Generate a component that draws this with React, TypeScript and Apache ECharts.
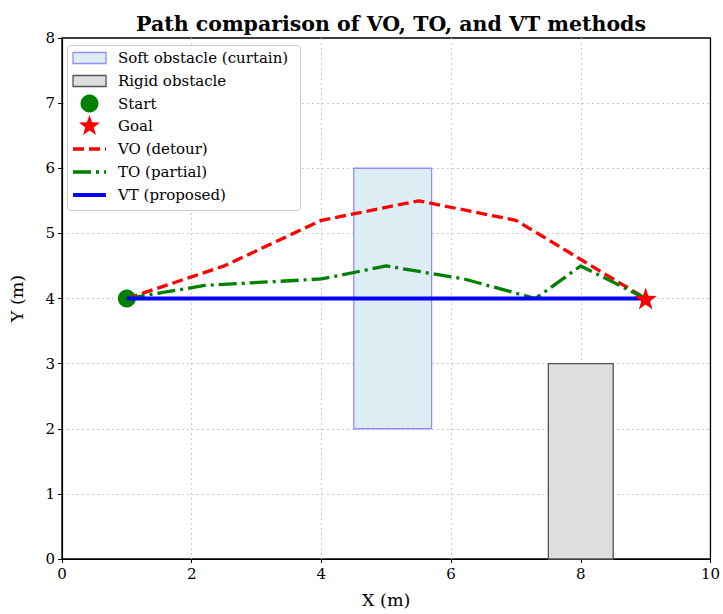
import React, { useEffect, useRef } from "react";
import * as echarts from "echarts";

const titleText = "Path comparison of VO, TO, and VT methods";
const xTicks = { min: 0, max: 10, interval: 2 };
const yTicks = { min: 0, max: 8, interval: 1 };

// obstacles: [x0, y0, x1, y1]
const softObstacle = [[4.5, 2, 5.7, 6]];
const rigidObstacle = [[7.5, 0, 8.5, 3]];

const startPoint = [[1, 4]];
const goalPoint = [[9, 4]];

const voPath = [[1, 4], [2.5, 4.5], [4, 5.2], [5.5, 5.5], [7, 5.2], [9, 4]];
const toPath = [[1, 4], [2.2, 4.2], [4, 4.3], [5, 4.5], [6.2, 4.3], [7.3, 4.0], [8, 4.5], [9, 4]];
const vtPath = [[1, 4], [9, 4]];

const legendLabels = [
  "Soft obstacle (curtain)",
  "Rigid obstacle",
  "Start",
  "Goal",
  "VO (detour)",
  "TO (partial)",
  "VT (proposed)",
];

const FONT = "DejaVu Serif";
const STAR = "path://M0,-10L2.35,-3.24L9.51,-3.09L3.8,1.24L5.88,8.09L0,4L-5.88,8.09L-3.8,1.24L-9.51,-3.09L-2.35,-3.24Z";

const GRID = { left: 60, right: 11, top: 38, bottom: 53 };
const W = 723, H = 614;

function starPoints(cx: number, cy: number, R: number, r: number) {
  const pts: number[][] = [];
  for (let i = 0; i < 10; i++) {
    const a = -Math.PI / 2 + (i * Math.PI) / 5;
    const rad = i % 2 === 0 ? R : r;
    pts.push([cx + rad * Math.cos(a), cy + rad * Math.sin(a)]);
  }
  return pts;
}

function rectSeries(name: string, data: number[][], fill: string, stroke: string) {
  return {
    name,
    type: "custom",
    z: 1,
    renderItem: (params: any, api: any) => {
      const p0 = api.coord([api.value(0), api.value(1)]);
      const p1 = api.coord([api.value(2), api.value(3)]);
      return {
        type: "rect",
        shape: { x: p0[0], y: p1[1], width: p1[0] - p0[0], height: p0[1] - p1[1] },
        style: { fill, stroke, lineWidth: 1.3 },
      };
    },
    data,
    encode: { x: [0, 2], y: [1, 3] },
  };
}

const splitLineStyle = {
  show: true,
  showMinLine: false,
  showMaxLine: false,
  lineStyle: { color: "#cccccc", type: [2, 3], width: 1 },
};

export default function App() {
  const ref = useRef<HTMLDivElement>(null);
  useEffect(() => {
    if (!ref.current) return;
    const chart = echarts.init(ref.current, null, { renderer: "svg" });
    const lx = 73, lw = 33, tx = 118;
    const rows = [58, 81, 103.5, 126, 149, 172, 195];
    const legendGraphics: any[] = [
      {
        type: "rect",
        shape: { x: 67.5, y: 45.5, width: 233, height: 165, r: 3 },
        style: { fill: "rgba(255,255,255,0.85)", stroke: "#cccccc", lineWidth: 1 },
        z: 100,
      },
      {
        type: "rect",
        shape: { x: lx, y: rows[0] - 5.5, width: lw, height: 11 },
        style: { fill: "#deedf4", stroke: "#8f8fff", lineWidth: 1.3 },
        z: 101,
      },
      {
        type: "rect",
        shape: { x: lx, y: rows[1] - 5.5, width: lw, height: 11 },
        style: { fill: "#dedede", stroke: "#555555", lineWidth: 1.3 },
        z: 101,
      },
      {
        type: "circle",
        shape: { cx: lx + lw / 2, cy: rows[2], r: 9 },
        style: { fill: "green" },
        z: 101,
      },
      {
        type: "polygon",
        shape: { points: starPoints(lx + lw / 2, rows[3], 11, 4.5) },
        style: { fill: "red" },
        z: 101,
      },
      {
        type: "line",
        shape: { x1: lx, y1: rows[4], x2: lx + lw, y2: rows[4] },
        style: { stroke: "red", lineWidth: 3.3, lineDash: [11, 5] },
        z: 101,
      },
      {
        type: "line",
        shape: { x1: lx, y1: rows[5], x2: lx + lw, y2: rows[5] },
        style: { stroke: "green", lineWidth: 3.3, lineDash: [18, 5, 3, 5] },
        z: 101,
      },
      {
        type: "line",
        shape: { x1: lx, y1: rows[6], x2: lx + lw, y2: rows[6] },
        style: { stroke: "blue", lineWidth: 4.2 },
        z: 101,
      },
    ];
    legendLabels.forEach((t, i) => {
      legendGraphics.push({
        type: "text",
        x: tx,
        y: rows[i],
        style: { text: t, fill: "#000", font: `15px '${FONT}'`, textVerticalAlign: "middle" },
        z: 101,
      });
    });

    chart.setOption({
      animation: false,
      title: {
        text: titleText,
        left: 386,
        textAlign: "center",
        top: 8,
        textStyle: { fontFamily: FONT, fontSize: 20.5, fontWeight: "bold", color: "#000" },
      },
      grid: { ...GRID, show: true, borderColor: "#000", borderWidth: 1.3, backgroundColor: "rgba(0,0,0,0)" },
      xAxis: {
        type: "value",
        min: xTicks.min,
        max: xTicks.max,
        interval: xTicks.interval,
        name: "X (m)",
        nameLocation: "middle",
        nameGap: 32,
        nameTextStyle: { fontFamily: FONT, fontSize: 17.5, color: "#000" },
        axisLine: { show: true, onZero: false, lineStyle: { color: "#000", width: 1.2 } },
        axisTick: { show: true, length: 4, lineStyle: { color: "#000" } },
        axisLabel: { fontFamily: FONT, fontSize: 15, color: "#000", margin: 7 },
        splitLine: splitLineStyle,
      },
      yAxis: {
        type: "value",
        min: yTicks.min,
        max: yTicks.max,
        interval: yTicks.interval,
        name: "Y (m)",
        nameLocation: "middle",
        nameGap: 36,
        nameTextStyle: { fontFamily: FONT, fontSize: 17.5, color: "#000" },
        axisLine: { show: true, onZero: false, lineStyle: { color: "#000", width: 1.2 } },
        axisTick: { show: true, length: 4, lineStyle: { color: "#000" } },
        axisLabel: { fontFamily: FONT, fontSize: 15, color: "#000", margin: 7 },
        splitLine: splitLineStyle,
      },
      graphic: legendGraphics,
      series: [
        rectSeries("Soft obstacle (curtain)", softObstacle, "#deedf4", "#8f8fff"),
        rectSeries("Rigid obstacle", rigidObstacle, "#dedede", "#555555"),
        {
          name: "Start",
          type: "scatter",
          data: startPoint,
          symbol: "circle",
          symbolSize: 18,
          itemStyle: { color: "green", opacity: 1 },
          z: 2,
        },
        {
          name: "VO (detour)",
          type: "line",
          data: voPath,
          showSymbol: false,
          symbol: "none",
          lineStyle: { color: "red", width: 3.3, type: [11, 5], cap: "butt" },
          z: 3,
        },
        {
          name: "TO (partial)",
          type: "line",
          data: toPath,
          showSymbol: false,
          symbol: "none",
          lineStyle: { color: "green", width: 3.3, type: [18, 5, 3, 5], cap: "butt" },
          z: 4,
        },
        {
          name: "VT (proposed)",
          type: "line",
          data: vtPath,
          showSymbol: false,
          symbol: "none",
          lineStyle: { color: "blue", width: 4.2 },
          z: 5,
        },
        {
          name: "Goal",
          type: "scatter",
          data: goalPoint,
          symbol: STAR,
          symbolSize: 22,
          itemStyle: { color: "red", opacity: 1 },
          z: 6,
        },
      ],
    });
    return () => chart.dispose();
  }, []);
  return <div ref={ref} style={{ width: W, height: H, position: "absolute", left: 0, top: 0 }} />;
}
